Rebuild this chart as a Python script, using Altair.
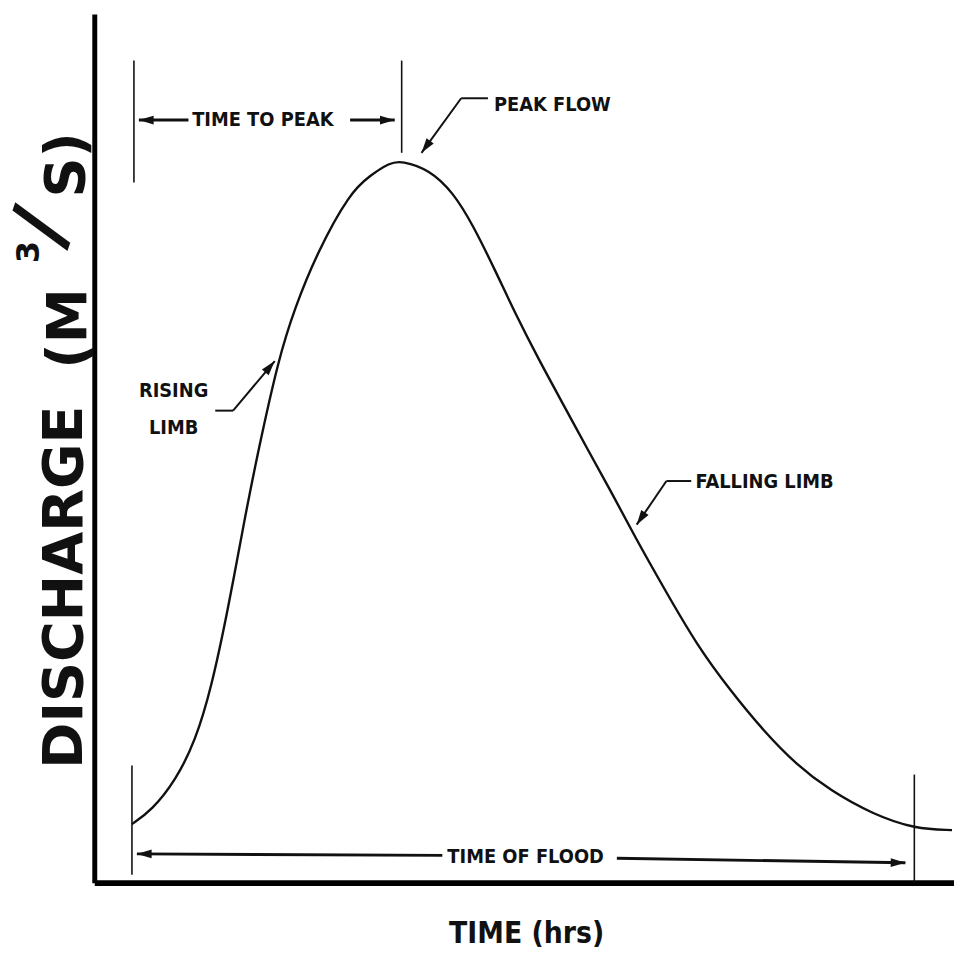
import altair as alt
import pandas as pd

# ---- hydrograph curve (time in hrs, discharge in m3/s; diagram units) ----
time_hrs = [3.8, 5.8, 8.2, 10.2, 11.8, 13.5, 15.2, 16.5, 18.6, 20.2, 22.5, 25.8, 27.8,
            29.8, 31.0, 33.8, 36.2, 38.2, 40.5, 42.5, 44.8, 47.2, 49.8, 52.2, 54.5,
            57.5, 60.8, 64.2, 67.5, 70.8, 74.2, 78.5, 82.8, 86.5]
discharge = [5.9, 7.3, 10.3, 14.3, 19.6, 27.6, 36.9, 43.4, 52.9, 57.9, 63.6, 69.6, 71.3,
             72.6, 72.8, 71.9, 69.6, 66.3, 61.6, 57.3, 52.8, 48.4, 43.6, 39.3, 34.9,
             29.6, 23.9, 19.3, 15.3, 11.9, 9.3, 6.9, 5.4, 5.3]

# ---- vertical marker ticks (time, discharge from, discharge to) ----
tick_time = [4.0, 31.0, 3.8, 82.7]
tick_from = [70.6, 73.6, 0.8, 0.0]
tick_to = [82.9, 82.9, 11.8, 10.9]

# ---- arrow shafts / leader segments ----
seg_x = [4.5, 25.8, 4.3, 52.7, 39.7, 37.0, 12.2, 14.0, 60.2, 57.7]
seg_y = [76.9, 76.9, 2.9, 2.45, 79.1, 79.1, 47.6, 47.6, 40.5, 40.5]
seg_x2 = [9.5, 30.3, 35.1, 81.8, 37.0, 33.0, 14.0, 18.2, 57.7, 54.7]
seg_y2 = [76.9, 76.9, 2.75, 2.0, 79.1, 73.6, 47.6, 52.6, 40.5, 36.1]
seg_w = [3, 3, 3, 3, 2, 2, 2, 2, 2, 2]

# ---- arrow heads (tip position, direction in degrees clockwise) ----
head_x = [4.5, 30.3, 4.3, 81.8, 33.0, 18.2, 54.7]
head_y = [76.9, 76.9, 2.9, 2.0, 73.6, 52.6, 36.1]
head_angle = [180, 0, 180, 1, 126, 310, 124]

# ---- annotation labels ----
labels = ["TIME TO PEAK", "PEAK FLOW", "RISING", "LIMB", "FALLING LIMB", "TIME OF FLOOD"]
label_x = [17.0, 46.2, 8.0, 8.0, 67.6, 43.5]
label_y = [76.9, 78.4, 49.6, 45.8, 40.4, 2.6]

x_title = "TIME (hrs)"
y_title_parts = ["DISCHARGE", "(M", "3", "/", "S)"]

NARROW = "DejaVu Sans Condensed, Liberation Sans, sans-serif"
WIDE = "DejaVu Sans, sans-serif"
INK = "#111111"

xs = alt.Scale(domain=[0, 86.7], nice=False, zero=False)
ys = alt.Scale(domain=[0, 87.6], nice=False, zero=False)
ax = alt.Axis(title=None, labels=False, ticks=False, grid=False,
              domainColor="black", domainWidth=6)
ay = alt.Axis(title=None, labels=False, ticks=False, grid=False,
              domainColor="black", domainWidth=5)


def X(f):
    return alt.X(f, scale=xs, axis=ax)


def Y(f):
    return alt.Y(f, scale=ys, axis=ay)


curve_df = pd.DataFrame({"x": time_hrs, "y": discharge})
curve = alt.Chart(curve_df).mark_line(
    color=INK, strokeWidth=2.4, interpolate="basis"
).encode(x=X("x:Q"), y=Y("y:Q"))

ticks_df = pd.DataFrame({"x": tick_time, "y": tick_from, "y2": tick_to})
ticks = alt.Chart(ticks_df).mark_rule(color=INK, strokeWidth=1.6).encode(
    x=X("x:Q"), y=Y("y:Q"), y2="y2:Q")

seg_df = pd.DataFrame({"x": seg_x, "y": seg_y, "x2": seg_x2, "y2": seg_y2, "w": seg_w})
segs = alt.Chart(seg_df).mark_rule(color=INK).encode(
    x=X("x:Q"), y=Y("y:Q"), x2="x2:Q", y2="y2:Q",
    strokeWidth=alt.StrokeWidth("w:Q", scale=None, legend=None))

head_df = pd.DataFrame({"x": head_x, "y": head_y, "a": head_angle})
heads = alt.Chart(head_df).mark_point(
    shape="M0,0 L-2,-0.6 L-2,0.6 Z", filled=True, color=INK, opacity=1,
    size=220, strokeWidth=0
).encode(x=X("x:Q"), y=Y("y:Q"),
         angle=alt.Angle("a:Q", scale=None, legend=None))

lab_df = pd.DataFrame({"x": label_x, "y": label_y, "t": labels})
labs = alt.Chart(lab_df).mark_text(
    font=NARROW, fontSize=20, fontWeight="bold", color=INK,
    align="center", baseline="middle"
).encode(x=X("x:Q"), y=Y("y:Q"), text="t:N")

one = pd.DataFrame({"k": [0]})


def free_text(txt, px, py, size, font, angle=0, weight="bold"):
    return alt.Chart(one).mark_text(
        font=font, fontSize=size, fontWeight=weight, color=INK,
        align="center", baseline="middle", angle=angle
    ).encode(x=alt.value(px), y=alt.value(py), text=alt.value(txt))


xt = free_text(x_title, 436, 928, 30, NARROW)
yt = [
    free_text(y_title_parts[0], -29, 578, 56, WIDE, angle=270),
    free_text(y_title_parts[1], -25, 317, 56, WIDE, angle=270),
    free_text(y_title_parts[2], -66, 240, 32, WIDE, angle=270),
    free_text(y_title_parts[3], -52, 215, 80, WIDE, angle=289),
    free_text(y_title_parts[4], -27, 152, 56, WIDE, angle=270),
]

chart = alt.layer(curve, ticks, segs, heads, labs, xt, *yt).properties(
    width=867, height=876,
    padding={"left": 87, "top": 2, "right": 0, "bottom": 75},
    autosize=alt.AutoSizeParams(type="none"),
    background="white",
).configure_view(stroke=None)

chart.save("out.html", embed_options={"renderer": "svg", "actions": False})
